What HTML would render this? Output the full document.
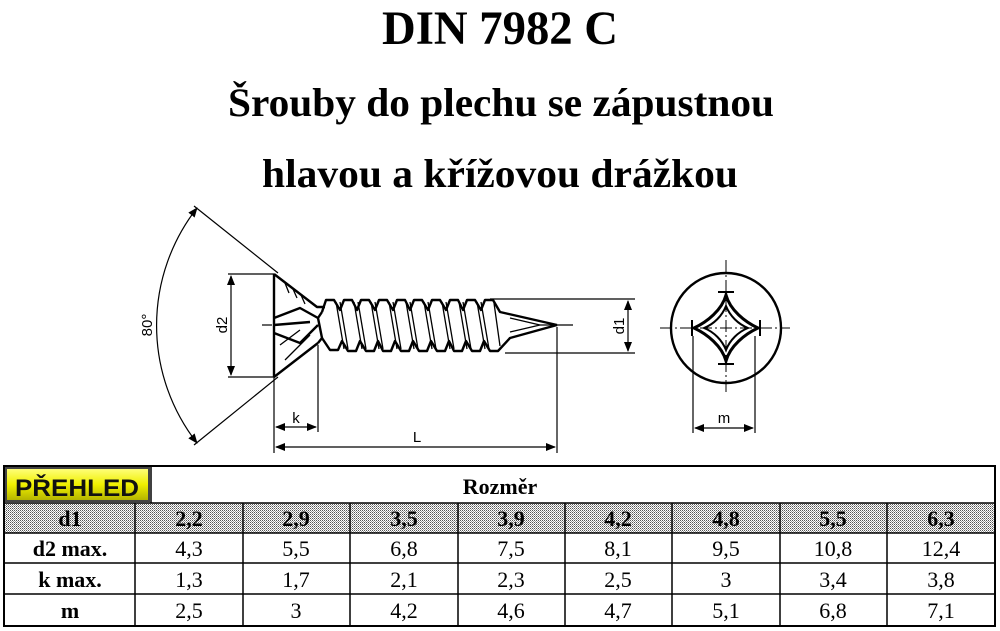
<!DOCTYPE html>
<html><head><meta charset="utf-8"><style>body{margin:0;background:#fff}svg{display:block}</style></head><body>
<svg width="1000" height="631" viewBox="0 0 1000 631" xmlns="http://www.w3.org/2000/svg">
<defs>
<pattern id="st" width="2" height="2" patternUnits="userSpaceOnUse"><rect width="2" height="2" fill="#fff"/><rect width="1" height="1" fill="#555"/><rect x="1" y="1" width="1" height="1" fill="#999"/></pattern>
<linearGradient id="yg" x1="0" y1="0" x2="0" y2="1"><stop offset="0" stop-color="#ffff80"/><stop offset="0.5" stop-color="#f0f000"/><stop offset="1" stop-color="#b0b000"/></linearGradient>
<marker id="ar" markerWidth="10" markerHeight="8" refX="9" refY="4" orient="auto-start-reverse" markerUnits="userSpaceOnUse"><path d="M0,0 L10,4 L0,8 z" fill="#000"/></marker>
</defs>
<g font-family="Liberation Serif, serif" font-weight="bold" text-anchor="middle" fill="#000">
<text x="500" y="44" font-size="48" textLength="236" lengthAdjust="spacingAndGlyphs">DIN 7982 C</text>
<text x="501" y="116" font-size="40" textLength="546" lengthAdjust="spacingAndGlyphs">Šrouby do plechu se zápustnou</text>
<text x="500" y="187" font-size="40" textLength="476" lengthAdjust="spacingAndGlyphs">hlavou a křížovou drážkou</text>
</g>
<g stroke="#000" fill="none" stroke-width="1.2">
<path d="M197,208 A191,191 0 0 0 197,443" marker-start="url(#ar)" marker-end="url(#ar)"/>
<line x1="194" y1="206" x2="278" y2="273"/>
<line x1="194" y1="445" x2="278" y2="377"/>
<line x1="228" y1="274" x2="274" y2="274"/><line x1="228" y1="377" x2="274" y2="377"/>
<line x1="231" y1="276" x2="231" y2="375" marker-start="url(#ar)" marker-end="url(#ar)"/>
<line x1="262" y1="325" x2="272" y2="325"/><line x1="540" y1="325" x2="573" y2="325"/>
<line x1="274" y1="377" x2="274" y2="453"/>
<line x1="318" y1="345" x2="318" y2="432"/>
<line x1="557" y1="327" x2="557" y2="453"/>
<line x1="276" y1="427" x2="316" y2="427" marker-start="url(#ar)" marker-end="url(#ar)"/>
<line x1="276" y1="447" x2="555" y2="447" marker-start="url(#ar)" marker-end="url(#ar)"/>
<line x1="490" y1="299" x2="635" y2="299"/><line x1="505" y1="353" x2="635" y2="353"/>
<line x1="628" y1="301" x2="628" y2="351" marker-start="url(#ar)" marker-end="url(#ar)"/>
</g>
<g stroke="#000" fill="none" stroke-width="2.4" stroke-linejoin="round">
<path d="M274,274 L274,377"/>
<path d="M274,274 L317,307 L325,307"/>
<path d="M274,377 L318,343"/>
<path d="M322,312 L326,300 L334,300 L340,310 L344,300 L352,300 L357,310 L361,300 L369,300 L375,310 L379,300 L387,300 L393,310 L397,300 L405,300 L410,310 L414,300 L422,300 L428,310 L432,300 L440,300 L446,310 L450,300 L458,300 L463,310 L467,300 L475,300 L481,310 L485,300 L493,300 L500,312 L557,325"/>
<path d="M322,338 L330,350 L338,350 L342,341 L348,351 L356,351 L360,341 L366,351 L374,351 L378,341 L383,351 L391,351 L395,341 L401,351 L409,351 L413,341 L419,351 L427,351 L431,341 L437,351 L445,351 L449,341 L454,351 L462,351 L466,341 L472,351 L480,351 L484,341 L490,351 L498,351 L510,338 L557,325"/>
<path d="M318,343 L322,338 L318,318 L322,312"/>
<path d="M274,318 L300,308 L318,318"/><path d="M274,333 L300,343 L318,325"/>
<path d="M274,325 L310,322"/>
</g>
<g stroke="#000" stroke-width="1.3">
<path d="M336,302 L344,349 M354,302 L362,349 M371,302 L379,349 M389,302 L397,349 M406,302 L414,349 M424,302 L432,349 M442,302 L450,349 M459,302 L467,349 M477,302 L485,349 M494,303 L500,346"/>
<path d="M340,302 L348,349 M358,302 L366,349 M375,302 L383,349 M393,302 L401,349 M410,302 L418,349 M428,302 L436,349 M446,302 L454,349 M463,302 L471,349 M481,302 L489,349"/>
<path d="M285,283 L289,293 M293,289 L297,298 M301,295 L305,304 M280,345 L300,330 M285,360 L310,335 M510,318 L540,325 M510,332 L540,325"/>
</g>
<g stroke="#000" fill="none">
<circle cx="726" cy="328" r="55" stroke-width="2.4"/>
<path d="M726,295 C730,310 745,322 758,328 C745,334 730,346 726,361 C722,346 707,334 694,328 C707,322 722,310 726,295 Z" stroke-width="3"/>
<path d="M726,306 C730,316 738,324 748,328 C738,332 730,340 726,350 C722,340 714,332 704,328 C714,324 722,316 726,306 Z" stroke-width="2"/>
<path d="M718,292 L734,292 M718,364 L734,364 M692,320 L692,336 M760,320 L760,336" stroke-width="2"/>
<path d="M660,328 L790,328 M726,260 L726,395" stroke-width="1" stroke-dasharray="12,3,2,3"/>
<line x1="693" y1="336" x2="693" y2="433" stroke-width="1.2"/>
<line x1="755" y1="336" x2="755" y2="433" stroke-width="1.2"/>
<line x1="695" y1="428" x2="753" y2="428" stroke-width="1.2" marker-start="url(#ar)" marker-end="url(#ar)"/>
</g>
<g font-family="Liberation Sans, sans-serif" font-size="15" fill="#000" text-anchor="middle">
<text x="296" y="423">k</text>
<text x="417" y="442">L</text>
<text x="724" y="423">m</text>
<text transform="translate(227,325) rotate(-90)">d2</text>
<text transform="translate(624,326) rotate(-90)">d1</text>
<text transform="translate(152,325) rotate(-90)">80°</text>
</g>
<g stroke="#000" stroke-width="1.5">
<rect x="4" y="466" width="991" height="160" fill="#fff" stroke-width="2"/>
<rect x="5" y="503" width="989" height="30" fill="url(#st)" stroke="none"/>
<line x1="4" y1="503" x2="995" y2="503"/><line x1="4" y1="533" x2="995" y2="533"/><line x1="4" y1="563" x2="995" y2="563"/><line x1="4" y1="594" x2="995" y2="594"/>
<line x1="135" y1="503" x2="135" y2="626"/><line x1="243" y1="503" x2="243" y2="626"/><line x1="350" y1="503" x2="350" y2="626"/><line x1="458" y1="503" x2="458" y2="626"/><line x1="565" y1="503" x2="565" y2="626"/><line x1="672" y1="503" x2="672" y2="626"/><line x1="780" y1="503" x2="780" y2="626"/><line x1="887" y1="503" x2="887" y2="626"/>
<line x1="151" y1="466" x2="151" y2="503"/>
<rect x="6" y="468" width="143" height="33" fill="url(#yg)" stroke="#444" stroke-width="2"/>
</g>
<text x="77" y="496" font-family="Liberation Sans, sans-serif" font-weight="bold" font-size="24" text-anchor="middle" fill="#111" textLength="124" lengthAdjust="spacingAndGlyphs">PŘEHLED</text>
<g font-family="Liberation Serif, serif" font-size="22" text-anchor="middle" fill="#000">
<text x="500" y="494" font-weight="bold">Rozměr</text>
<g font-weight="bold"><text x="70" y="526">d1</text><text x="70" y="556">d2 max.</text><text x="70" y="587">k max.</text><text x="70" y="618">m</text>
<text x="189" y="526">2,2</text><text x="296" y="526">2,9</text><text x="404" y="526">3,5</text><text x="511" y="526">3,9</text><text x="618" y="526">4,2</text><text x="726" y="526">4,8</text><text x="833" y="526">5,5</text><text x="941" y="526">6,3</text></g>
<text x="189" y="556">4,3</text><text x="296" y="556">5,5</text><text x="404" y="556">6,8</text><text x="511" y="556">7,5</text><text x="618" y="556">8,1</text><text x="726" y="556">9,5</text><text x="833" y="556">10,8</text><text x="941" y="556">12,4</text>
<text x="189" y="587">1,3</text><text x="296" y="587">1,7</text><text x="404" y="587">2,1</text><text x="511" y="587">2,3</text><text x="618" y="587">2,5</text><text x="726" y="587">3</text><text x="833" y="587">3,4</text><text x="941" y="587">3,8</text>
<text x="189" y="618">2,5</text><text x="296" y="618">3</text><text x="404" y="618">4,2</text><text x="511" y="618">4,6</text><text x="618" y="618">4,7</text><text x="726" y="618">5,1</text><text x="833" y="618">6,8</text><text x="941" y="618">7,1</text>
</g>
</svg>
</body></html>
